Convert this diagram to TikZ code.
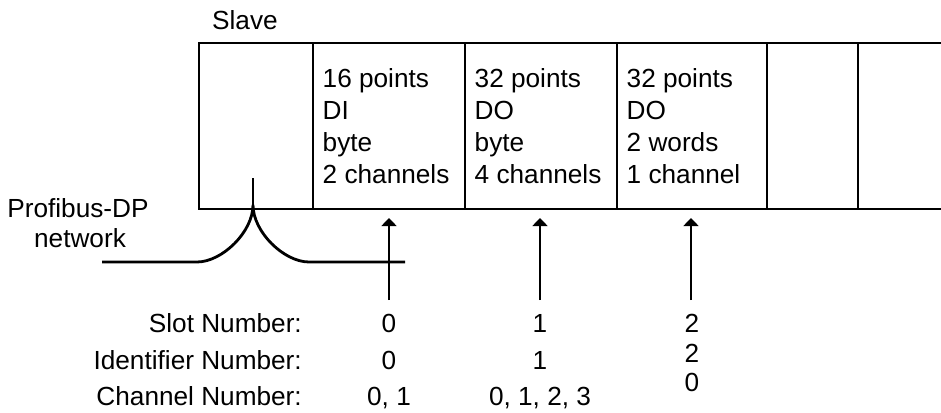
\documentclass[tikz,border=0pt]{standalone}
\usepackage{fontspec}
\setmainfont{Liberation Sans}
\usetikzlibrary{arrows.meta}
\begin{document}
\begin{tikzpicture}[x=1bp,y=-1bp,
  txt/.style={inner sep=0pt, font=\fontsize{26.2bp}{32bp}\selectfont},
  frame/.style={line width=1.6bp},
  net/.style={line width=2.8bp, line join=round},
  ptr/.style={line width=1.6bp,-{Triangle[width=15bp,length=8bp]}}]
\useasboundingbox (0,0) rectangle (941,412);
% module frame
\draw[frame] (941,43) -- (199,43) -- (199,209) -- (941,209);
\foreach \xx in {313,465,617,767,858} \draw[frame] (\xx,43) -- (\xx,209);
% title
\node[txt,anchor=base west] (slave) at (212,29) {Slave};
% cell texts
\node[txt,anchor=base west] (a1) at (322.5,87) {16 points};
\node[txt,anchor=base west] (a2) at (322.5,119) {DI};
\node[txt,anchor=base west] (a3) at (322.5,151) {byte};
\node[txt,anchor=base west] (a4) at (322.5,183) {2 channels};
\node[txt,anchor=base west] (b1) at (474.5,87) {32 points};
\node[txt,anchor=base west] (b2) at (474.5,119) {DO};
\node[txt,anchor=base west] (b3) at (474.5,151) {byte};
\node[txt,anchor=base west] (b4) at (474.5,183) {4 channels};
\node[txt,anchor=base west] (c1) at (626.5,87) {32 points};
\node[txt,anchor=base west] (c2) at (626.5,119) {DO};
\node[txt,anchor=base west] (c3) at (626.5,151) {2 words};
\node[txt,anchor=base west] (c4) at (626.5,183) {1 channel};
% network
\node[txt,anchor=base] (pdp) at (78,217) {Profibus-DP};
\node[txt,anchor=base] (netw) at (80,247) {network};
\coordinate (nl) at (102,262);
\coordinate (nr) at (405,262);
\coordinate (cusp) at (253,178);
\coordinate (cb) at (253,205);
\draw[net] (nl) -- (197,262) .. controls (222,262) and (253,232) .. (cb)
  .. controls (253,232) and (284,262) .. (309,262) -- (nr);
\draw[net] (cb) -- (cusp);
% pointers
\coordinate (s0) at (389,300); \coordinate (t0) at (389,218);
\coordinate (s1) at (540,300); \coordinate (t1) at (540,218);
\coordinate (s2) at (691,300); \coordinate (t2) at (691,218);
\draw[ptr] (s0) -- (t0);
\draw[ptr] (s1) -- (t1);
\draw[ptr] (s2) -- (t2);
% legend labels
\node[txt,anchor=base east] (l1) at (302,332) {Slot Number:};
\node[txt,anchor=base east] (l2) at (302,369) {Identifier Number:};
\node[txt,anchor=base east] (l3) at (302,405) {Channel Number:};
\node[txt,anchor=base] (v01) at (389,332) {0};
\node[txt,anchor=base] (v02) at (389,369) {0};
\node[txt,anchor=base] (v03) at (389,405) {0, 1};
\node[txt,anchor=base] (v11) at (540,332) {1};
\node[txt,anchor=base] (v12) at (540,369) {1};
\node[txt,anchor=base] (v13) at (540,405) {0, 1, 2, 3};
\node[txt,anchor=base] (v21) at (692,332) {2};
\node[txt,anchor=base] (v22) at (692,362) {2};
\node[txt,anchor=base] (v23) at (692,391) {0};
\end{tikzpicture}
\end{document}
